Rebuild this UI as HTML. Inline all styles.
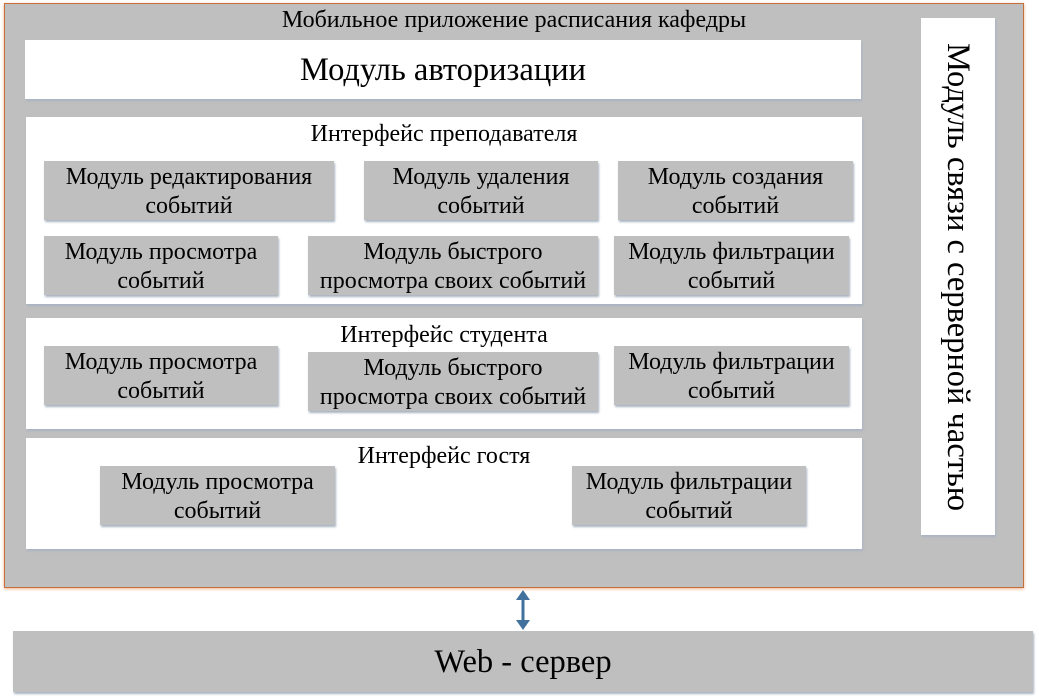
<!DOCTYPE html>
<html><head><meta charset="utf-8"><style>
body{margin:0;width:1039px;height:700px;background:#fff;position:relative;overflow:hidden;font-family:"Liberation Serif",serif;color:#000}
div{position:absolute;box-sizing:border-box}
.w{background:#fff;box-shadow:1px 2px 2px #a9b4c2}
.g{background:#bfbfbf;box-shadow:1px 2px 2px #a9b4c2;display:flex;align-items:center;justify-content:center;text-align:center;font-size:24px;line-height:29px;white-space:nowrap;padding-top:2px}
.t{font-size:24px;text-align:center;line-height:26px;white-space:nowrap}
</style></head><body>
<div style="left:4px;top:3px;width:1020px;height:585px;background:#bfbfbf;border:1px solid #c5703a;box-shadow:0 1px 3px #f0b090"></div>
<div class="t" style="left:4px;top:7px;width:1020px">Мобильное приложение расписания кафедры</div>
<div class="w" style="left:25px;top:40px;width:836px;height:59px;font-size:32.5px;text-align:center;line-height:61px">Модуль авторизации</div>
<div class="w" style="left:26px;top:117px;width:836px;height:187px"></div>
<div class="t" style="left:26px;top:121px;width:836px">Интерфейс преподавателя</div>
<div class="g" style="left:44px;top:161px;width:290px;height:59px">Модуль редактирования<br>событий</div>
<div class="g" style="left:364px;top:161px;width:234px;height:59px">Модуль удаления<br>событий</div>
<div class="g" style="left:618px;top:161px;width:235px;height:59px">Модуль создания<br>событий</div>
<div class="g" style="left:44px;top:236px;width:234px;height:59px">Модуль просмотра<br>событий</div>
<div class="g" style="left:308px;top:236px;width:290px;height:59px">Модуль быстрого<br>просмотра своих событий</div>
<div class="g" style="left:614px;top:236px;width:235px;height:59px">Модуль фильтрации<br>событий</div>
<div class="w" style="left:26px;top:318px;width:836px;height:111px"></div>
<div class="t" style="left:26px;top:322px;width:836px">Интерфейс студента</div>
<div class="g" style="left:44px;top:346px;width:234px;height:59px">Модуль просмотра<br>событий</div>
<div class="g" style="left:308px;top:352px;width:290px;height:59px">Модуль быстрого<br>просмотра своих событий</div>
<div class="g" style="left:614px;top:346px;width:235px;height:59px">Модуль фильтрации<br>событий</div>
<div class="w" style="left:26px;top:438px;width:836px;height:111px"></div>
<div class="t" style="left:26px;top:443px;width:836px">Интерфейс гостя</div>
<div class="g" style="left:100px;top:466px;width:235px;height:59px">Модуль просмотра<br>событий</div>
<div class="g" style="left:572px;top:466px;width:234px;height:59px">Модуль фильтрации<br>событий</div>
<div class="w" style="left:921px;top:18px;width:74px;height:517px"></div>
<div style="left:958px;top:277px;width:0;height:0"><div style="left:-270px;top:-19px;width:540px;height:38px;font-size:32.5px;line-height:38px;text-align:center;white-space:nowrap;transform:rotate(90deg)">Модуль связи с серверной частью</div></div>
<svg style="position:absolute;left:510px;top:588px" width="30" height="45"><line x1="13" y1="10" x2="13" y2="34" stroke="#41719c" stroke-width="3"/><polygon points="6,12 20,12 13,2" fill="#41719c"/><polygon points="6,32 20,32 13,42" fill="#41719c"/></svg>
<div class="g" style="left:13px;top:631px;width:1020px;height:61px;font-size:32.5px">Web - сервер</div>
</body></html>
